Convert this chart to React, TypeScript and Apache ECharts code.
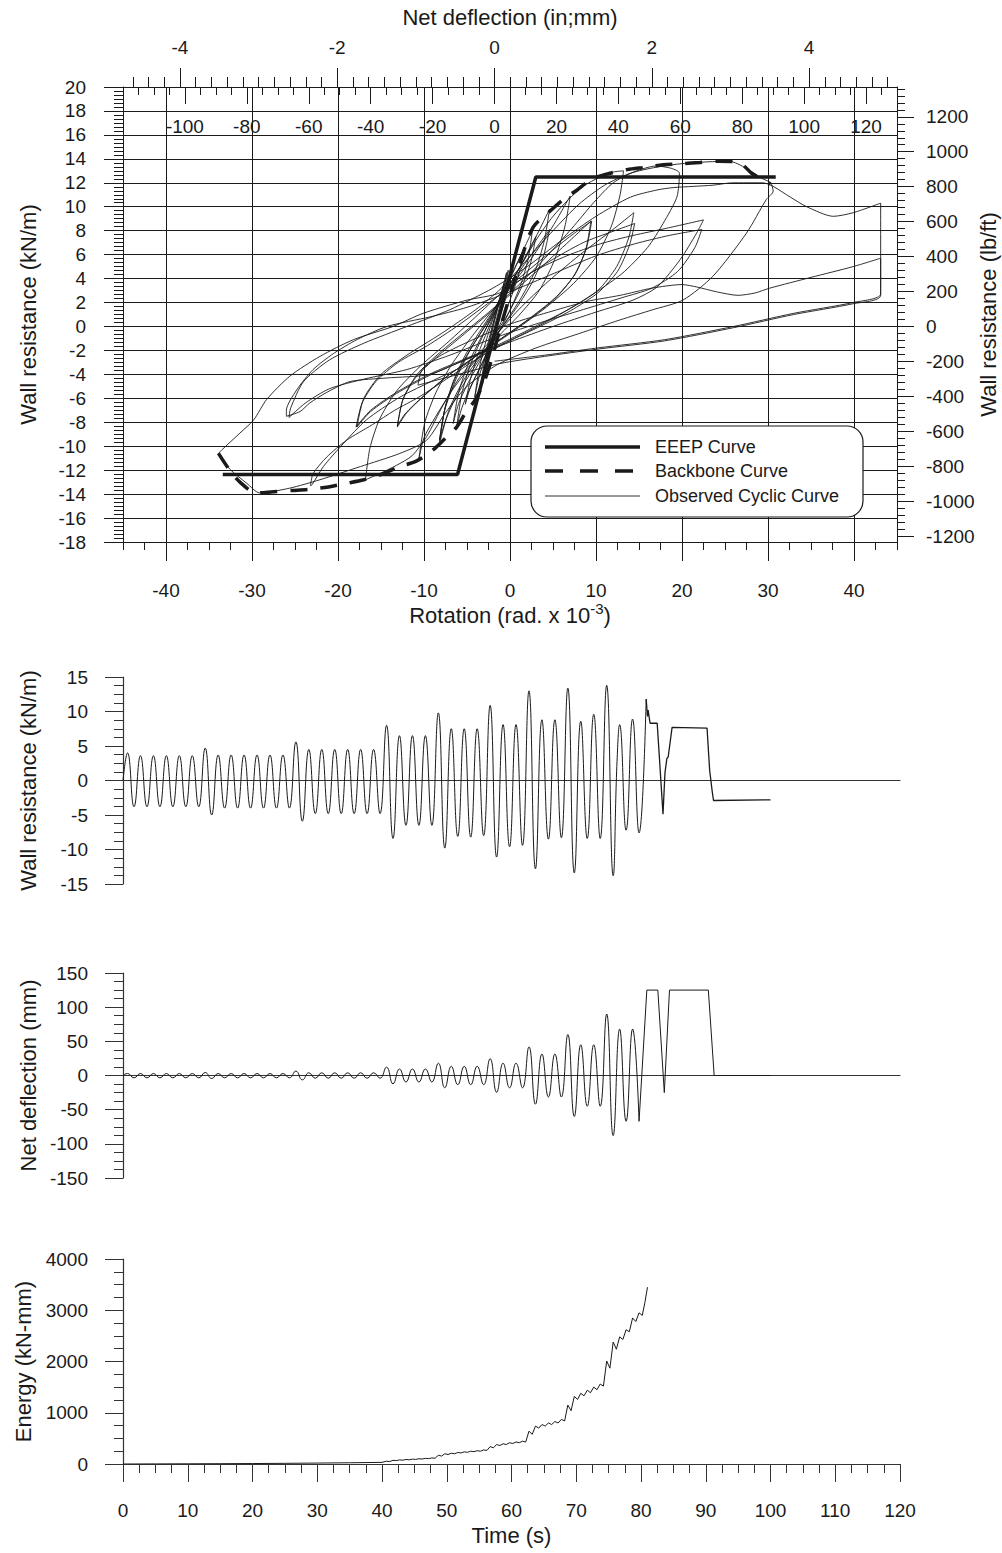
import React, { useEffect, useRef } from 'react';
import * as echarts from 'echarts';

const FONT = '"Liberation Sans", Arial, Helvetica, sans-serif';
const INK = '#1a1a1a';
const KN_TO_LB = 68.5218;

// ---------- tick values ----------
const rotLabels = [-40, -30, -20, -10, 0, 10, 20, 30, 40];
const inchLabels = [-4, -2, 0, 2, 4];
const mmLabels = [-100, -80, -60, -40, -20, 0, 20, 40, 60, 80, 100, 120];
const lbLabels = [-1200, -1000, -800, -600, -400, -200, 0, 200, 400, 600, 800, 1000, 1200];

function seq(start: number, end: number, step: number): number[] {
  const out: number[] = [];
  const n = Math.round((end - start) / step);
  for (let i = 0; i <= n; i++) out.push(Number((start + i * step).toFixed(3)));
  return out;
}
const rotMinorTicks = seq(-45, 45, 2.5);
const inchMinorTicks = seq(-4.6, 5.0, 0.2);
const mmMinorTicks = seq(-115, 125, 5);
const lbMinorTicks = seq(-1200, 1360, 40);

// ---------- hysteresis (rotation x10^-3 rad, kN/m) ----------
const eeepCurve = [[-33.4, -12.36], [-6.1, -12.36], [3.0, 12.48], [30.9, 12.48]];

const backboneCurve = [
  [-33.9, -10.6], [-32.6, -12.0], [-31.4, -13.0], [-29.5, -13.9], [-27.5, -13.8], [-25.4, -13.7],
  [-23.3, -13.6], [-21.1, -13.4], [-19.0, -13.1], [-17.0, -12.8], [-15.1, -12.4], [-13.0, -11.75],
  [-10.9, -11.25], [-9.1, -10.4], [-7.6, -9.4], [-6.2, -8.4], [-5.0, -7.0], [-4.1, -6.2], [-3.0, -4.6],
  [-2.0, -2.4], [-1.0, 0.2], [0.0, 2.6], [1.3, 5.6], [2.7, 8.3], [4.6, 9.6], [6.2, 10.6], [7.8, 11.4],
  [9.5, 12.3], [11.6, 12.8], [13.6, 13.1], [15.8, 13.3], [17.8, 13.5], [20.1, 13.6], [22.1, 13.7],
  [24.3, 13.8], [26.2, 13.75], [27.2, 13.4], [28.1, 12.8], [29.8, 12.1], [30.3, 11.9],
];

const loopSmallA = [[-3.0, -3.8], [-2.7, -2.3], [-2.3, -0.9], [-1.8, 0.7], [-1.3, 2.1], [-0.7, 3.6], [-1.0, 2.3], [-1.5, 0.8], [-2.0, -0.6], [-2.5, -2.1], [-3.0, -3.8]];
const loopSmallB = [[-3.4, -5.0], [-3.0, -3.0], [-2.5, -1.2], [-1.8, 0.7], [-1.0, 2.6], [-0.2, 4.7], [-0.6, 2.6], [-1.3, 0.6], [-2.0, -1.0], [-2.8, -2.8], [-3.4, -5.0]];
const loopSmallC = [[-4.1, -5.9], [-3.6, -3.6], [-2.9, -1.5], [-2.0, 0.6], [-1.0, 2.6], [0.0, 4.4], [0.5, 5.6], [-0.1, 3.4], [-1.0, 1.2], [-1.9, -0.6], [-2.8, -2.4], [-3.6, -4.2], [-4.1, -5.9]];
const loopSmallD = [[-3.2, -4.8], [-2.8, -2.8], [-2.2, -0.8], [-1.6, 1.0], [-1.0, 2.8], [-0.4, 4.5], [-0.8, 2.5], [-1.4, 0.6], [-2.0, -1.0], [-2.7, -2.8], [-3.2, -4.8]];
const loop20 = [[-6.2, -8.4], [-5.6, -5.6], [-4.6, -3.2], [-3.3, -1.0], [-1.9, 1.2], [-0.5, 3.4], [0.9, 5.4], [2.6, 8.0], [2.1, 5.6], [1.2, 3.4], [-0.1, 1.2], [-1.6, -0.9], [-3.1, -2.9], [-4.5, -4.9], [-5.6, -6.8], [-6.2, -8.4]];
const loop21 = [[-5.2, -6.5], [-4.6, -4.4], [-3.7, -2.3], [-2.6, -0.3], [-1.3, 1.9], [0.1, 4.1], [1.6, 6.5], [1.0, 4.3], [0.0, 2.2], [-1.2, 0.1], [-2.5, -1.9], [-3.8, -3.9], [-4.7, -5.3], [-5.2, -6.5]];
const loop24 = [[-8.2, -9.8], [-7.6, -7.0], [-6.6, -4.6], [-5.2, -2.4], [-3.5, -0.4], [-1.6, 1.7], [0.4, 4.0], [2.4, 6.6], [4.6, 9.8], [4.0, 7.2], [2.9, 4.6], [1.3, 2.4], [-0.6, 0.3], [-2.6, -1.7], [-4.5, -3.8], [-6.2, -5.8], [-7.4, -7.7], [-8.2, -9.8]];
const loop25 = [[-6.6, -8.1], [-6.0, -5.6], [-5.0, -3.4], [-3.7, -1.4], [-2.2, 0.6], [-0.6, 2.7], [1.1, 4.9], [3.0, 7.5], [2.4, 5.3], [1.3, 3.2], [-0.2, 1.1], [-1.9, -0.9], [-3.5, -2.9], [-5.0, -4.9], [-6.0, -6.5], [-6.6, -8.1]];
const loop28 = [[-10.6, -11.1], [-9.9, -8.0], [-8.6, -5.5], [-6.8, -3.2], [-4.6, -1.0], [-2.2, 1.2], [0.3, 3.5], [2.8, 6.0], [5.0, 8.4], [7.0, 10.9], [6.4, 8.4], [5.2, 5.6], [3.4, 3.0], [1.0, 0.9], [-1.6, -1.0], [-4.2, -3.0], [-6.6, -5.2], [-8.7, -7.6], [-10.0, -9.3], [-10.6, -11.1]];
const loop29 = [[-8.2, -9.5], [-7.5, -6.6], [-6.3, -4.2], [-4.7, -2.0], [-2.8, 0.1], [-0.8, 2.3], [1.3, 4.8], [3.0, 6.5], [4.6, 8.1], [3.9, 5.9], [2.6, 3.7], [0.8, 1.6], [-1.3, -0.4], [-3.4, -2.4], [-5.4, -4.5], [-7.0, -6.8], [-8.2, -9.5]];
const cycle31 = [[-8.2, -9.5], [-7.6, -7.0], [-6.4, -4.6], [-4.8, -2.2], [-2.8, 0.2], [-0.8, 2.6], [1.2, 5.0], [3.2, 7.4], [5.0, 9.2], [6.8, 10.6], [8.5, 11.7], [10.5, 12.5], [12.0, 12.9], [13.2, 13.0], [12.8, 11.0], [11.8, 8.4], [10.0, 5.8], [7.4, 3.6], [4.2, 1.6], [0.6, -0.3], [-2.8, -2.0], [-5.6, -4.0], [-7.8, -6.6], [-9.7, -9.2], [-11.4, -10.8], [-13.2, -11.6], [-15.2, -12.3], [-16.8, -12.8]];
const cycle32 = [[-16.8, -12.8], [-16.3, -10.2], [-15.2, -7.8], [-13.2, -5.4], [-10.4, -3.3], [-7.2, -1.3], [-4.0, 0.8], [-1.0, 2.8], [2.0, 4.6], [5.0, 6.4], [7.5, 7.8], [9.5, 8.8], [8.9, 6.6], [7.6, 4.4], [5.4, 2.5], [2.5, 0.8], [-0.8, -0.9], [-4.0, -2.5], [-7.2, -4.1], [-10.0, -5.8], [-12.0, -7.2], [-13.1, -8.4]];
const cycle33 = [[-13.1, -8.4], [-12.5, -6.2], [-11.0, -4.3], [-8.6, -2.6], [-5.6, -0.8], [-2.6, 1.0], [0.4, 2.9], [3.4, 4.8], [6.4, 6.8], [9.4, 8.8], [8.8, 6.4], [7.4, 4.2], [5.2, 2.3], [2.2, 0.6], [-1.0, -1.0], [-4.2, -2.6], [-7.4, -4.2], [-10.2, -5.9], [-12.2, -7.3], [-13.1, -8.3]];
const cycle34 = [[-13.1, -8.3], [-12.4, -6.0], [-10.8, -4.0], [-8.2, -2.2], [-5.0, -0.3], [-1.8, 1.6], [1.2, 3.6], [4.2, 5.8], [7.2, 8.2], [9.8, 10.4], [12.0, 12.0], [14.4, 12.9], [17.0, 13.4], [18.8, 13.2], [19.7, 12.8], [19.4, 10.8], [17.8, 8.6], [16.0, 6.6], [13.0, 4.4], [9.0, 2.4], [4.8, 0.6], [0.5, -1.0], [-3.6, -2.6], [-7.4, -4.4], [-10.6, -5.9], [-13.4, -7.0], [-16.0, -8.2], [-19.0, -9.5], [-21.3, -10.9], [-22.9, -12.3], [-23.2, -13.3]];
const cycle35 = [[-23.2, -13.3], [-23.0, -13.2], [-21.7, -11.7], [-19.4, -9.8], [-16.7, -7.8], [-12.8, -5.9], [-8.9, -4.5], [-5.0, -3.1], [-2.0, -1.0], [1.0, 1.4], [4.5, 3.8], [8.5, 6.2], [11.8, 8.0], [14.4, 9.5], [13.8, 7.4], [12.4, 5.0], [10.2, 3.0], [7.0, 1.5], [3.2, 0.1], [-1.0, -1.4], [-5.2, -2.7], [-9.4, -4.0], [-13.2, -5.5], [-16.2, -7.0], [-17.9, -8.4]];
const cycle36 = [[-17.9, -8.4], [-17.2, -6.4], [-15.6, -4.6], [-13.0, -3.0], [-9.6, -1.6], [-6.0, 0.1], [-2.6, 1.9], [0.8, 3.7], [4.5, 5.4], [8.5, 7.0], [11.8, 7.9], [14.5, 8.6], [13.9, 6.8], [12.5, 4.6], [10.2, 2.8], [7.0, 1.3], [3.2, -0.1], [-1.0, -1.5], [-5.2, -2.8], [-9.4, -4.1], [-13.2, -5.6], [-16.2, -7.1], [-17.8, -8.4]];
const cycle37 = [[-17.8, -8.4], [-17.0, -6.0], [-15.0, -4.0], [-12.0, -2.4], [-8.0, -0.6], [-4.0, 1.4], [-1.0, 3.2], [2.0, 5.6], [5.0, 8.0], [8.0, 10.2], [11.0, 11.8], [14.0, 12.8], [17.0, 13.3], [20.0, 13.6], [23.0, 13.75], [25.5, 13.8], [27.5, 13.2], [29.2, 12.4], [30.3, 12.0], [30.6, 11.3], [29.8, 10.6], [27.5, 7.8], [23.6, 4.2], [20.1, 2.2], [16.6, 1.4], [12.8, 0.55], [8.0, -0.6], [3.0, -1.8], [-1.5, -3.2], [-5.0, -5.0], [-7.5, -7.2], [-9.7, -9.5], [-12.8, -10.6], [-17.4, -11.7], [-22.1, -12.8], [-25.6, -13.5], [-29.1, -13.9], [-30.6, -13.1], [-32.6, -11.9], [-33.9, -10.6]];
const cycle38 = [[-33.9, -10.6], [-33.5, -10.3], [-31.4, -8.9], [-29.8, -7.8], [-28.3, -6.1], [-25.6, -4.15], [-22.1, -2.5], [-18.2, -1.1], [-13.6, 0.0], [-10.1, 1.1], [-5.0, 2.2], [-1.2, 2.8], [2.7, 4.6], [6.6, 5.9], [10.5, 6.9], [14.3, 7.6], [18.2, 8.2], [22.5, 8.9], [21.7, 7.8], [19.8, 5.6], [17.1, 3.3], [14.3, 2.2], [10.0, 1.2], [5.0, 0.0], [0.0, -1.3], [-5.0, -2.7], [-9.3, -4.0], [-14.3, -4.3], [-18.6, -4.6], [-21.3, -5.5], [-23.3, -6.4], [-24.4, -7.1], [-26.0, -7.5]];
const cycle39 = [[-26.0, -7.5], [-26.0, -7.0], [-24.8, -5.3], [-22.9, -3.6], [-20.5, -2.25], [-17.8, -1.1], [-14.3, 0.0], [-9.3, 0.8], [-5.0, 1.6], [0.0, 2.9], [5.0, 4.4], [10.0, 5.9], [14.5, 6.9], [18.5, 7.6], [22.3, 8.1], [21.5, 6.6], [19.5, 4.6], [16.5, 3.2], [13.0, 2.4], [8.0, 1.3], [3.0, 0.2], [-2.0, -1.0], [-7.0, -2.4], [-12.0, -3.6], [-17.0, -4.4], [-21.0, -5.2], [-23.8, -6.4], [-25.7, -7.6]];
const cycle40 = [[-25.7, -7.6], [-25.5, -6.8], [-24.0, -4.6], [-21.0, -2.8], [-17.0, -1.4], [-12.0, 0.0], [-7.0, 1.4], [-2.0, 3.2], [2.0, 5.0], [6.0, 7.2], [10.0, 9.2], [14.0, 10.8], [17.1, 11.4], [19.0, 11.6], [21.3, 11.7], [23.6, 11.8], [25.9, 12.0], [29.4, 12.0], [30.6, 11.7], [32.6, 10.8], [34.5, 10.0], [37.6, 9.2], [39.9, 9.5], [43.1, 10.3], [43.1, 2.6], [39.9, 1.9], [33.0, 1.0], [26.0, -0.1], [18.0, -1.2], [10.1, -1.9], [4.0, -2.5], [-1.2, -3.1], [-6.0, -4.0], [-10.7, -4.9], [-10.2, -3.6], [-8.0, -2.4], [-4.0, -1.0], [0.0, 0.2], [5.0, 1.3], [9.0, 2.1], [12.8, 2.6], [16.5, 3.2], [20.0, 3.5], [21.7, 3.3], [24.0, 2.9], [26.5, 2.6], [28.5, 2.8], [30.2, 3.2], [35.0, 4.1], [39.9, 5.0], [43.1, 5.7], [43.1, 2.7], [39.9, 2.0], [33.0, 1.1], [26.0, 0.0], [18.0, -1.1], [10.1, -1.8], [4.0, -2.4], [-1.8, -2.9]];

const cyclicLoops = [loopSmallA, loopSmallB, loopSmallC, loopSmallD, loop20, loop21, loop24, loop25, loop28, loop29, cycle31, cycle32, cycle33, cycle34, cycle35, cycle36, cycle37, cycle38, cycle39, cycle40];

// ---------- time histories ----------
const wallResistanceCycles = [
  [0, 0], [0.7, 4.0], [1.7, -3.8], [2.7, 3.6], [3.7, -3.8], [4.7, 3.6], [5.7, -3.8], [6.7, 3.6], [7.7, -3.8], [8.7, 3.6], [9.7, -3.8], [10.7, 3.6], [11.7, -3.8],
  [12.7, 4.7], [13.7, -5.0],
  [14.7, 3.7], [15.7, -4.0], [16.7, 3.7], [17.7, -4.0], [18.7, 3.7], [19.7, -4.0], [20.7, 3.7], [21.7, -4.0], [22.7, 3.7], [23.7, -4.0], [24.7, 3.7], [25.7, -4.0],
  [26.7, 5.6], [27.7, -5.9],
  [28.7, 4.5], [29.7, -4.8], [30.7, 4.5], [31.7, -4.8], [32.7, 4.5], [33.7, -4.8], [34.7, 4.5], [35.7, -4.8], [36.7, 4.5], [37.7, -4.8], [38.7, 4.5], [39.7, -4.8],
  [40.7, 8.0], [41.7, -8.4],
  [42.7, 6.5], [43.7, -6.5], [44.7, 6.5], [45.7, -6.5], [46.7, 6.5], [47.7, -6.5],
  [48.7, 9.8], [49.7, -9.8],
  [50.7, 7.5], [51.7, -8.1], [52.7, 7.5], [53.7, -8.2], [54.7, 7.5], [55.7, -8.0],
  [56.7, 10.9], [57.7, -11.1],
  [58.7, 8.1], [59.7, -9.6], [60.7, 8.1], [61.7, -9.4],
  [62.7, 13.0], [63.7, -12.8],
  [64.7, 8.8], [65.7, -8.5], [66.7, 8.8], [67.7, -8.3],
  [68.7, 13.4], [69.7, -13.4],
  [70.7, 8.6], [71.7, -8.4], [72.7, 9.6], [73.7, -8.4],
  [74.7, 13.8], [75.7, -13.8], [76.3, 2.8], [76.7, 8.1], [77.7, -7.2], [78.7, 8.9], [79.7, -7.6], [80.8, 11.8],
];
const wallResistanceTail = [
  [80.8, 11.8], [81.0, 9.3], [81.1, 10.2], [81.4, 8.3], [82.5, 8.3], [83.4, -4.9], [83.7, 1.1], [84.0, 3.2],
  [84.2, 3.4], [84.8, 7.7], [90.2, 7.6], [90.6, 1.5], [91.0, -1.6], [91.2, -2.9], [100.0, -2.8],
];

const deflectionCycles = [
  [0, 0], [0.7, 2.9], [1.7, -3.4], [2.7, 2.9], [3.7, -3.4], [4.7, 2.9], [5.7, -3.4], [6.7, 2.9], [7.7, -3.4], [8.7, 2.9], [9.7, -3.4], [10.7, 2.9], [11.7, -3.4],
  [12.7, 4.4], [13.7, -4.4],
  [14.7, 2.9], [15.7, -3.4], [16.7, 2.9], [17.7, -3.4], [18.7, 2.9], [19.7, -3.4], [20.7, 2.9], [21.7, -3.4], [22.7, 2.9], [23.7, -3.4], [24.7, 2.9], [25.7, -3.4],
  [26.7, 6.4], [27.7, -6.4],
  [28.7, 4.0], [29.7, -4.0], [30.7, 4.0], [31.7, -4.0], [32.7, 4.0], [33.7, -4.0], [34.7, 4.0], [35.7, -4.0], [36.7, 4.0], [37.7, -4.0], [38.7, 4.0], [39.7, -4.0],
  [40.7, 12.2], [41.7, -12.2],
  [42.7, 9.5], [43.7, -9.5], [44.7, 9.5], [45.7, -9.5], [46.7, 9.5], [47.7, -9.5],
  [48.7, 18], [49.7, -18],
  [50.7, 13.5], [51.7, -13.5], [52.7, 13.5], [53.7, -13.5], [54.7, 13.5], [55.7, -13.5],
  [56.7, 24.5], [57.7, -24.5],
  [58.7, 18], [59.7, -18], [60.7, 18], [61.7, -18],
  [62.7, 42], [63.7, -42],
  [64.7, 31.5], [65.7, -31.5], [66.7, 31.5], [67.7, -31.5],
  [68.7, 60], [69.7, -60],
  [70.7, 45], [71.7, -45], [72.7, 45], [73.7, -45],
  [74.7, 90], [75.7, -88],
  [76.7, 68], [77.7, -67], [78.7, 68], [79.7, -67],
];
const deflectionTail = [
  [79.7, -67], [80.9, 125], [82.6, 125], [83.6, -25], [84.4, 125], [90.4, 125], [91.3, 0], [100, 0],
];

const energyHistory = [
  [0, 0], [5, 2], [10, 4], [15, 6], [20, 9], [25, 13], [30, 18], [35, 24], [40, 32],
  [40.7, 55], [41.2, 48], [41.7, 72], [42.2, 66], [42.7, 80], [43.2, 74], [43.7, 88], [44.2, 82],
  [44.7, 95], [45.2, 90], [45.7, 102], [46.2, 97], [46.7, 110], [47.2, 105], [47.7, 118], [48.2, 112],
  [48.7, 170], [49.2, 155], [49.7, 200], [50.2, 185], [50.7, 210], [51.2, 200], [51.7, 225], [52.2, 215],
  [52.7, 238], [53.2, 228], [53.7, 250], [54.2, 240], [54.7, 260], [55.2, 250], [55.7, 275], [56.2, 265],
  [56.7, 340], [57.2, 315], [57.7, 380], [58.2, 360], [58.7, 395], [59.2, 380], [59.7, 415], [60.2, 400],
  [60.7, 430], [61.2, 415], [61.7, 445], [62.2, 430], [62.7, 640], [63.2, 580], [63.7, 740], [64.2, 700],
  [64.7, 770], [65.2, 740], [65.7, 800], [66.2, 770], [66.7, 830], [67.2, 800], [67.7, 870], [68.2, 840],
  [68.7, 1150], [69.2, 1040], [69.7, 1320], [70.2, 1260], [70.7, 1380], [71.2, 1330], [71.7, 1440],
  [72.2, 1390], [72.7, 1500], [73.2, 1450], [73.7, 1560], [74.2, 1520], [74.7, 2010], [75.2, 1870],
  [75.7, 2380], [76.2, 2240], [76.7, 2480], [77.2, 2430], [77.7, 2620], [78.2, 2580], [78.7, 2850],
  [79.2, 2780], [79.7, 2950], [80.2, 2900], [80.6, 3150], [81.0, 3450],
];

const legendItems = ['EEEP Curve', 'Backbone Curve', 'Observed Cyclic Curve'];

// ---------- helpers ----------
const lineStyleInk = { color: INK, width: 1 };
const labelBase = { color: INK, fontSize: 19, fontFamily: FONT };
const nameBase = { color: INK, fontSize: 22, fontFamily: FONT };
const plain = (v: number) => String(v);

function buildOption(): any {
  const xAxis: any[] = [
    { // 0 rotation (bottom)
      gridIndex: 0, type: 'value', position: 'bottom', min: -45, max: 45, splitNumber: 9,
      axisLine: { show: true, onZero: false, lineStyle: lineStyleInk },
      axisTick: { show: true, length: 19, customValues: rotLabels, lineStyle: lineStyleInk },
      axisLabel: { show: true, customValues: rotLabels, margin: 39, formatter: plain, ...labelBase },
      splitLine: { show: true, lineStyle: lineStyleInk },
      name: 'Rotation (rad. x 10{sup|-3})', nameLocation: 'middle', nameGap: 58,
      nameTextStyle: { ...nameBase, lineHeight: 30, rich: { sup: { fontSize: 15, fontFamily: FONT, color: INK, verticalAlign: 'top', lineHeight: 15 } } },
    },
    { // 1 rotation minor ticks
      gridIndex: 0, type: 'value', position: 'bottom', min: -45, max: 45,
      axisLine: { show: false, onZero: false },
      axisTick: { show: true, length: 8, customValues: rotMinorTicks, lineStyle: lineStyleInk },
      axisLabel: { show: false }, splitLine: { show: false },
    },
    { // 2 inches (top)
      gridIndex: 0, type: 'value', position: 'top', min: -120 / 25.4, max: 130 / 25.4,
      axisLine: { show: true, onZero: false, lineStyle: lineStyleInk },
      axisTick: { show: true, length: 19, customValues: inchLabels, lineStyle: lineStyleInk },
      axisLabel: { show: true, customValues: inchLabels, margin: 30, formatter: plain, ...labelBase },
      splitLine: { show: false },
      name: 'Net deflection (in;mm)', nameLocation: 'middle', nameGap: 59, nameTextStyle: nameBase,
    },
    { // 3 inch minor
      gridIndex: 0, type: 'value', position: 'top', min: -120 / 25.4, max: 130 / 25.4,
      axisLine: { show: false, onZero: false },
      axisTick: { show: true, length: 10, customValues: inchMinorTicks, lineStyle: lineStyleInk },
      axisLabel: { show: false }, splitLine: { show: false },
    },
    { // 4 mm (inside top)
      gridIndex: 0, type: 'value', position: 'top', min: -120, max: 130,
      axisLine: { show: false, onZero: false },
      axisTick: { show: true, inside: true, length: 17, customValues: mmLabels, lineStyle: lineStyleInk },
      axisLabel: { show: true, inside: true, customValues: mmLabels, margin: 30, formatter: plain, ...labelBase },
      splitLine: { show: false },
    },
    { // 5 mm minor
      gridIndex: 0, type: 'value', position: 'top', min: -120, max: 130,
      axisLine: { show: false, onZero: false },
      axisTick: { show: true, inside: true, length: 8, customValues: mmMinorTicks, lineStyle: lineStyleInk },
      axisLabel: { show: false }, splitLine: { show: false },
    },
    { // 6 time, panel 2
      gridIndex: 1, type: 'value', min: 0, max: 120,
      axisLine: { show: true, onZero: true, lineStyle: { color: '#333', width: 1.2 } },
      axisTick: { show: false }, axisLabel: { show: false }, splitLine: { show: false },
    },
    { // 7 time, panel 3
      gridIndex: 2, type: 'value', min: 0, max: 120,
      axisLine: { show: true, onZero: true, lineStyle: { color: '#333', width: 1.2 } },
      axisTick: { show: false }, axisLabel: { show: false }, splitLine: { show: false },
    },
    { // 8 time, panel 4
      gridIndex: 3, type: 'value', min: 0, max: 120, interval: 10,
      axisLine: { show: true, onZero: false, lineStyle: { color: '#333', width: 1.2 } },
      axisTick: { show: true, length: 18, lineStyle: { color: '#333' } },
      minorTick: { show: true, splitNumber: 4, length: 9, lineStyle: { color: '#333' } },
      axisLabel: { show: true, margin: 37, formatter: plain, ...labelBase },
      splitLine: { show: false },
      name: 'Time (s)', nameLocation: 'middle', nameGap: 60, nameTextStyle: nameBase,
    },
  ];

  const timeY = (grid: number, min: number, max: number, interval: number, name: string) => ({
    gridIndex: grid, type: 'value', position: 'left', min, max, interval,
    axisLine: { show: true, onZero: false, lineStyle: { color: '#333', width: 1.2 } },
    axisTick: { show: true, length: 18, lineStyle: { color: '#333' } },
    minorTick: { show: true, splitNumber: 4, length: 9, lineStyle: { color: '#333' } },
    axisLabel: { show: true, margin: 35, formatter: plain, ...labelBase },
    splitLine: { show: false },
    name, nameLocation: 'middle', nameGap: 84, nameRotate: 90, nameTextStyle: nameBase,
  });

  const yAxis: any[] = [
    { // 0 kN/m
      gridIndex: 0, type: 'value', position: 'left', min: -18, max: 20, interval: 2,
      axisLine: { show: true, onZero: false, lineStyle: lineStyleInk },
      axisTick: { show: true, length: 19, lineStyle: lineStyleInk },
      minorTick: { show: true, splitNumber: 6, length: 9, lineStyle: lineStyleInk },
      axisLabel: { show: true, margin: 37, formatter: plain, ...labelBase },
      splitLine: { show: true, lineStyle: lineStyleInk },
      name: 'Wall resistance (kN/m)', nameLocation: 'middle', nameGap: 84, nameRotate: 90, nameTextStyle: nameBase,
    },
    { // 1 lb/ft
      gridIndex: 0, type: 'value', position: 'right', min: -18 * KN_TO_LB, max: 20 * KN_TO_LB,
      axisLine: { show: true, onZero: false, lineStyle: lineStyleInk },
      axisTick: { show: true, length: 17, customValues: lbLabels, lineStyle: lineStyleInk },
      axisLabel: { show: true, customValues: lbLabels, margin: 29, formatter: plain, ...labelBase },
      splitLine: { show: false },
      name: 'Wall resistance (lb/ft)', nameLocation: 'middle', nameGap: 80, nameRotate: 90,
      nameMoveOverlap: false, nameTextStyle: nameBase,
    },
    { // 2 lb/ft minor
      gridIndex: 0, type: 'value', position: 'right', min: -18 * KN_TO_LB, max: 20 * KN_TO_LB,
      axisLine: { show: false, onZero: false },
      axisTick: { show: true, length: 8, customValues: lbMinorTicks, lineStyle: lineStyleInk },
      axisLabel: { show: false }, splitLine: { show: false },
    },
    timeY(1, -15, 15, 5, 'Wall resistance (kN/m)'),
    timeY(2, -150, 150, 50, 'Net deflection (mm)'),
    timeY(3, 0, 4000, 1000, 'Energy (kN-mm)'),
  ];

  const thin = { color: INK, width: 0.9 };
  const series: any[] = [
    ...cyclicLoops.map((loop) => ({
      name: legendItems[2], type: 'line', xAxisIndex: 0, yAxisIndex: 0, data: loop,
      smooth: 0.25, symbol: 'none', lineStyle: thin, z: 3, silent: true,
    })),
    {
      name: legendItems[1], type: 'line', xAxisIndex: 0, yAxisIndex: 0, data: backboneCurve,
      smooth: 0.3, symbol: 'none', lineStyle: { color: INK, width: 3.5, type: [17, 13] }, z: 5, silent: true,
    },
    {
      name: legendItems[0], type: 'line', xAxisIndex: 0, yAxisIndex: 0, data: eeepCurve,
      symbol: 'none', lineStyle: { color: INK, width: 3.5 }, z: 6, silent: true,
    },
    { type: 'line', xAxisIndex: 6, yAxisIndex: 3, data: wallResistanceCycles, smooth: 0.5, symbol: 'none', lineStyle: { color: INK, width: 1 }, silent: true },
    { type: 'line', xAxisIndex: 6, yAxisIndex: 3, data: wallResistanceTail, symbol: 'none', lineStyle: { color: INK, width: 1.3 }, silent: true },
    { type: 'line', xAxisIndex: 7, yAxisIndex: 4, data: deflectionCycles, smooth: 0.5, symbol: 'none', lineStyle: { color: INK, width: 1 }, silent: true },
    { type: 'line', xAxisIndex: 7, yAxisIndex: 4, data: deflectionTail, symbol: 'none', lineStyle: { color: INK, width: 1 }, silent: true },
    { type: 'line', xAxisIndex: 8, yAxisIndex: 5, data: energyHistory, symbol: 'none', lineStyle: { color: INK, width: 1 }, silent: true },
  ];

  const legendRowY = [447, 471, 496];
  const legendGraphic = {
    type: 'group', z: 100, zlevel: 0,
    children: [
      { type: 'rect', z: 100, shape: { x: 531, y: 426, width: 332, height: 91, r: 16 }, style: { fill: '#fff', stroke: INK, lineWidth: 1.2 } },
      { type: 'line', z: 101, shape: { x1: 545, y1: legendRowY[0], x2: 640, y2: legendRowY[0] }, style: { stroke: INK, lineWidth: 3.5 } },
      { type: 'line', z: 101, shape: { x1: 545, y1: legendRowY[1], x2: 640, y2: legendRowY[1] }, style: { stroke: INK, lineWidth: 3.5, lineDash: [18, 17] } },
      { type: 'line', z: 101, shape: { x1: 545, y1: legendRowY[2], x2: 640, y2: legendRowY[2] }, style: { stroke: INK, lineWidth: 0.9 } },
      ...legendItems.map((t, i) => ({
        type: 'text', z: 101, x: 655, y: legendRowY[i],
        style: { text: t, fill: INK, font: `18px ${FONT}`, verticalAlign: 'middle', align: 'left' },
      })),
    ],
  };

  const gridBase = { outerBoundsMode: 'none', containLabel: false };
  return {
    animation: false,
    backgroundColor: '#fff',
    textStyle: { fontFamily: FONT },
    grid: [
      { ...gridBase, left: 123, width: 774, top: 87, height: 455 },
      { ...gridBase, left: 123, width: 777, top: 677, height: 207 },
      { ...gridBase, left: 123, width: 777, top: 973, height: 205 },
      { ...gridBase, left: 123, width: 777, top: 1259, height: 205 },
    ],
    xAxis, yAxis, series,
    graphic: [legendGraphic],
  };
}

export default function App() {
  const ref = useRef<HTMLDivElement>(null);
  useEffect(() => {
    if (!ref.current) return;
    const chart = echarts.init(ref.current, undefined, { renderer: 'svg' });
    chart.setOption(buildOption());
    return () => chart.dispose();
  }, []);
  return <div ref={ref} style={{ position: 'absolute', left: 0, top: 0, width: 1002, height: 1553, background: '#fff' }} />;
}
